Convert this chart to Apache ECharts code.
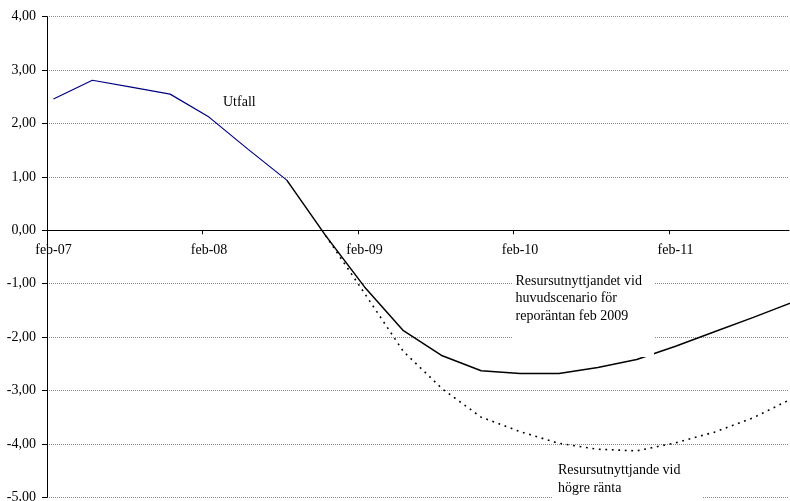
<!DOCTYPE html>
<html>
<head>
<meta charset="utf-8">
<script src="https://cdn.jsdelivr.net/npm/echarts@6/dist/echarts.min.js"></script>
<style>
html,body{margin:0;padding:0;background:#fff;}
#c{width:790px;height:501px;}
</style>
</head>
<body>
<div id="c"></div>
<script>
// Quarterly observations (Q1 = feb, mid-quarter month)
const quarters = ['2007K1','2007K2','2007K3','2007K4','2008K1','2008K2','2008K3','2008K4',
  '2009K1','2009K2','2009K3','2009K4','2010K1','2010K2','2010K3','2010K4',
  '2011K1','2011K2','2011K3','2011K4'];
const utfall = [2.46, 2.81, 2.68, 2.55, 2.12, 1.52, 0.94, null, null, null, null, null, null, null, null, null, null, null, null, null];
const huvudscenario = [null, null, null, null, null, null, 0.94, -0.10, -1.06, -1.88, -2.35, -2.63, -2.68, -2.68, -2.57, -2.42, -2.17, -1.90, -1.63, -1.35];
const hogreRanta = [null, null, null, null, null, null, null, -0.10, -1.18, -2.27, -2.97, -3.50, -3.77, -3.99, -4.10, -4.13, -3.98, -3.78, -3.51, -3.15];
const tickLabels = ['feb-07','feb-08','feb-09','feb-10','feb-11'];
const labelUtfall = 'Utfall';
const labelHuvud = 'Resursutnyttjandet vid\nhuvudscenario för\nreporäntan feb 2009';
const labelHogre = 'Resursutnyttjande vid\nhögre ränta';

const FONT = "'Liberation Serif','Times New Roman',serif";
function toPairs(arr){
  const out = [];
  arr.forEach((v,i)=>{ if(v!==null) out.push([i*3+0.5, v]); });
  return out;
}

const chart = echarts.init(document.getElementById('c'), null, {renderer:'canvas'});
chart.setOption({
  animation:false,
  backgroundColor:'#fff',
  grid:{left:47, right:1, top:16.7, bottom:3.7, containLabel:false, outerBoundsMode:'none'},
  xAxis:{
    type:'value', min:0, max:57.25, interval:12,
    position:'bottom', offset:-267,
    axisLine:{onZero:false, lineStyle:{color:'#000', width:1}},
    axisTick:{show:true, length:4, lineStyle:{color:'#000'}},
    axisLabel:{
      margin:13, padding:[0,0,0,13], color:'#000', fontFamily:FONT, fontSize:14,
      showMaxLabel:false,
      formatter:function(v){ return (v%12===0 && tickLabels[v/12]) ? tickLabels[v/12] : ''; }
    },
    splitLine:{show:false}
  },
  yAxis:{
    type:'value', min:-5, max:4, interval:1,
    axisLine:{show:true, onZero:false, lineStyle:{color:'#000', width:1}},
    axisTick:{show:true, length:5, lineStyle:{color:'#000'}},
    axisLabel:{
      margin:11, color:'#000', fontFamily:FONT, fontSize:14,
      formatter:function(v){ return v.toFixed(2).replace('.',','); }
    },
    splitLine:{show:true, lineStyle:{color:'#8a8a8a', type:'dotted', width:1}}
  },
  series:[
    {name:'Utfall', type:'line', data:toPairs(utfall), showSymbol:false, symbol:'none',
     lineStyle:{color:'#000080', width:1.2}, z:3},
    {name:'Huvudscenario', type:'line', data:toPairs(huvudscenario), showSymbol:false, symbol:'none',
     lineStyle:{color:'#000', width:1.5}, z:3},
    {name:'Högre ränta', type:'line', data:toPairs(hogreRanta), showSymbol:false, symbol:'none',
     lineStyle:{color:'#000', width:1.6, type:[1.8,4.7], cap:'butt'}, z:2}
  ],
  graphic:[
    {type:'text', z:100, x:223, y:94, style:{text:labelUtfall, font:'14px '+FONT, fill:'#000', lineHeight:17}},
    {type:'rect', z:99, shape:{x:512, y:268, width:142, height:89}, style:{fill:'#fff'}},
    {type:'text', z:100, x:515.5, y:272.5, style:{text:labelHuvud, font:'14px '+FONT, fill:'#000', lineHeight:17.5}},
    {type:'rect', z:99, shape:{x:553, y:457, width:149, height:50}, style:{fill:'#fff'}},
    {type:'text', z:100, x:558, y:461, style:{text:labelHogre, font:'14px '+FONT, fill:'#000', lineHeight:18}}
  ]
});
</script>
</body>
</html>
